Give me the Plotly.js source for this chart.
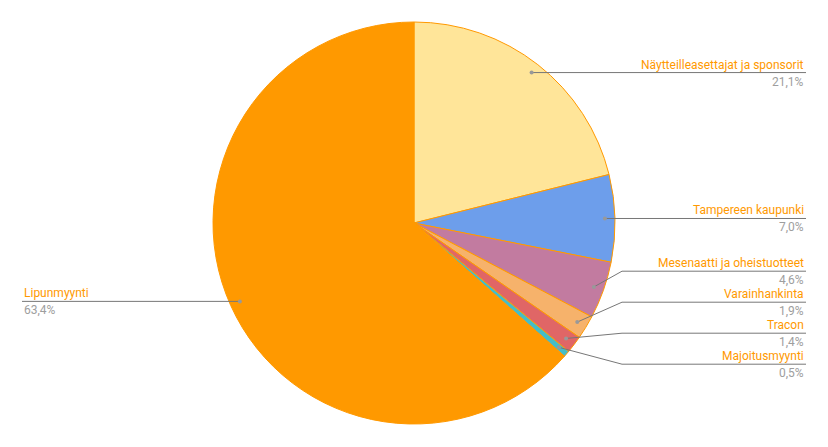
<!DOCTYPE html>
<html>
<head>
<meta charset="utf-8">
<script src="https://cdn.plot.ly/plotly-3.0.1.min.js"></script>
<style>html,body{margin:0;padding:0;background:#fff;}#chart{width:828px;height:447px;}</style>
</head>
<body>
<div id="chart"></div>
<script>
var categories = ["Näytteilleasettajat ja sponsorit", "Tampereen kaupunki", "Mesenaatti ja oheistuotteet", "Varainhankinta", "Tracon", "Majoitusmyynti", "Lipunmyynti"];
var values = [21.1, 7.0, 4.6, 1.9, 1.4, 0.5, 63.4];
var colors = ["#ffe599", "#6d9eeb", "#c27ba0", "#f6b26b", "#e06666", "#46bdc6", "#ff9900"];

var W = 828, H = 447;
var cx = 414, cy = 223, R = 201;
var dotR = 0.95 * R;
var edgeMargin = 22;
var gap = 31;
var clusterBias = -6;

var total = values.reduce(function(a, b){ return a + b; }, 0);
function fmt(v){ return v.toFixed(1).replace('.', ',') + '%'; }
function px(x){ return x / W; }
function py(y){ return 1 - y / H; }

var items = [];
var cum = 0;
for (var i = 0; i < values.length; i++) {
  var mid = (cum + values[i] / 2) / total * 2 * Math.PI;
  cum += values[i];
  var dx = cx + dotR * Math.sin(mid), dy = cy - dotR * Math.cos(mid);
  items.push({i: i, dx: dx, dy: dy, right: dx >= cx, ly: dy});
}

function layoutSide(list) {
  list.sort(function(a, b){ return a.dy - b.dy; });
  var clusters = list.map(function(it){ return {items: [it], mean: it.dy}; });
  function place(c){
    var n = c.items.length;
    var top = c.mean - (n - 1) * gap / 2 + (n > 1 ? clusterBias : 0);
    c.items.forEach(function(it, k){ it.ly = top + k * gap; });
    c.top = top; c.bottom = top + (n - 1) * gap;
  }
  clusters.forEach(place);
  var changed = true;
  while (changed) {
    changed = false;
    for (var k = 0; k < clusters.length - 1; k++) {
      if (clusters[k + 1].top - clusters[k].bottom < gap) {
        var merged = clusters[k].items.concat(clusters[k + 1].items);
        var m = merged.reduce(function(s, it){ return s + it.dy; }, 0) / merged.length;
        var c = {items: merged, mean: m};
        place(c);
        clusters.splice(k, 2, c);
        changed = true;
        break;
      }
    }
  }
}
layoutSide(items.filter(function(it){ return it.right; }));
layoutSide(items.filter(function(it){ return !it.right; }));

var shapes = [], annotations = [];
var lineCol = "#777777";
items.forEach(function(it){
  var endX = it.right ? W - edgeMargin : edgeMargin;
  var elbowX = it.right ? cx + R + 7 : cx - R - 7;
  if (Math.abs(it.ly - it.dy) < 1) {
    shapes.push({type: 'line', xref: 'paper', yref: 'paper', x0: px(it.dx), y0: py(it.dy), x1: px(endX), y1: py(it.dy), line: {color: lineCol, width: 1}});
  } else {
    shapes.push({type: 'line', xref: 'paper', yref: 'paper', x0: px(it.dx), y0: py(it.dy), x1: px(elbowX), y1: py(it.ly), line: {color: lineCol, width: 1}});
    shapes.push({type: 'line', xref: 'paper', yref: 'paper', x0: px(elbowX), y0: py(it.ly), x1: px(endX), y1: py(it.ly), line: {color: lineCol, width: 1}});
  }
  shapes.push({type: 'circle', xref: 'paper', yref: 'paper', x0: px(it.dx - 2), y0: py(it.dy - 2), x1: px(it.dx + 2), y1: py(it.dy + 2), fillcolor: '#999999', line: {width: 0}});
  var anchor = it.right ? 'right' : 'left';
  annotations.push({xref: 'paper', yref: 'paper', x: px(endX), y: py(it.ly - 8), xanchor: anchor, yanchor: 'middle', showarrow: false, text: categories[it.i], font: {family: 'Roboto, Arial, sans-serif', size: 12, color: '#ff9900'}});
  annotations.push({xref: 'paper', yref: 'paper', x: px(endX), y: py(it.ly + 9), xanchor: anchor, yanchor: 'middle', showarrow: false, text: fmt(values[it.i]), font: {family: 'Roboto, Arial, sans-serif', size: 12, color: '#9e9e9e'}});
});

var trace = {
  type: 'pie',
  labels: categories,
  values: values,
  sort: false,
  direction: 'clockwise',
  rotation: 0,
  textinfo: 'none',
  hoverinfo: 'none',
  marker: {colors: colors, line: {color: '#ff9900', width: 1}},
  domain: {x: [0, 1], y: [(H - (cy + R)) / H, (H - (cy - R)) / H]},
  showlegend: false
};

Plotly.newPlot('chart', [trace], {
  width: W, height: H,
  margin: {l: 0, r: 0, t: 0, b: 0},
  paper_bgcolor: '#ffffff',
  showlegend: false,
  shapes: shapes,
  annotations: annotations
}, {displayModeBar: false, staticPlot: true});
</script>
</body>
</html>
